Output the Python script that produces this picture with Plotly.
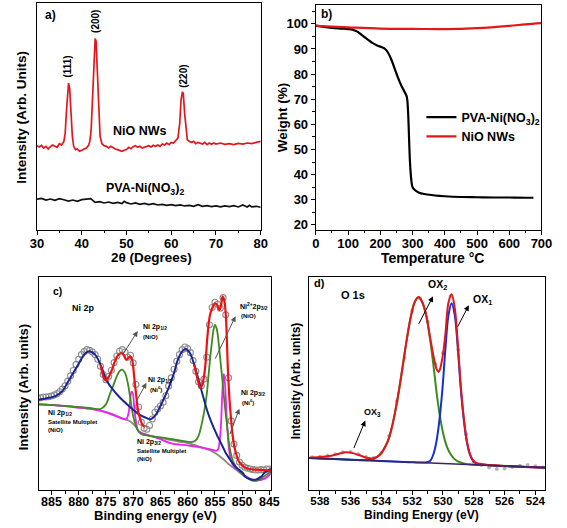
import plotly.graph_objects as go

# ---------------- Panel a: XRD ----------------
a_red_x = [30, 30.5, 31, 31.5, 32, 32.5, 33, 33.5, 34, 34.5, 35, 35.5, 36,
           36.3, 36.6, 36.9, 37.05, 37.3, 37.6, 37.9, 38.2, 38.6,
           39, 39.5, 40, 40.5, 41, 41.5,
           41.8, 42.1, 42.4, 42.7, 43.0, 43.2, 43.5, 43.8, 44.1, 44.5,
           45, 45.5, 46, 46.5, 47, 47.5, 48, 48.5, 49, 49.5, 50, 50.5, 51, 51.5, 52, 52.5,
           53, 53.5, 54, 54.5, 55, 55.5, 56, 56.5, 57, 57.5, 58, 58.5, 59, 59.5, 60, 60.5, 61,
           61.5, 61.9, 62.2, 62.5, 62.7, 63.0, 63.3, 63.6,
           64, 64.5, 65, 65.5, 66, 66.5, 67, 67.5, 68, 68.5, 69, 69.5, 70,
           71, 72, 73, 74, 75, 76, 77, 78, 79, 80]
a_red_I = [262, 258, 263, 255, 260, 252, 259, 264, 260, 257, 268, 264, 275,
           300, 370, 440, 452, 435, 360, 290, 260, 250,
           252, 245, 248, 252, 255, 262,
           275, 310, 400, 510, 587, 580, 480, 350, 290, 268,
           262, 260, 255, 260, 255, 252, 250, 247, 245, 248, 250, 257, 253, 259, 262, 257,
           260, 255, 258, 260, 262, 258, 263, 260, 264, 260, 267, 264, 270, 265, 272, 270, 277,
           285, 330, 400, 425, 420, 360, 305, 280,
           275, 272, 275, 268, 272, 270, 267, 272, 265, 270, 266, 270, 267,
           270, 266, 268, 265, 269, 267, 270, 268, 272, 275]
a_blk_x = [30, 31, 32, 33, 34, 35, 36, 37, 38, 39, 40, 41, 42, 43, 44, 45, 46, 47, 48, 49,
           49.5, 50, 51, 52, 53, 54, 55, 56, 57, 58, 59, 60, 61, 62, 63, 64, 65, 66, 67, 68,
           69, 70, 71, 72, 73, 74, 75, 76, 77, 77.5, 78, 79, 80]
a_blk_I = [100, 102, 97, 100, 96, 101, 98, 94, 97, 93, 98, 100, 101, 90, 92, 88, 91, 87, 90, 86,
           93, 89, 85, 88, 84, 87, 83, 86, 82, 84, 81, 83, 80, 82, 79, 81, 78, 83, 78, 80,
           77, 79, 76, 79, 77, 80, 76, 82, 76, 81, 76, 78, 75]
a_peaks = ["(111)", "(200)", "(220)"]

# ---------------- Panel b: TGA ----------------
b_T_black = [0, 20, 50, 80, 100, 115, 130, 145, 160, 175, 190, 205, 215, 225, 235, 245, 255,
             265, 275, 282, 286, 289, 292, 296, 300, 308, 320, 340, 370, 400, 450, 500, 550,
             600, 650, 675]
b_W_black = [99.3, 98.9, 98.4, 98.1, 97.9, 97.6, 96.8, 95.3, 93.8, 92.4, 91.4, 90.7, 90.0,
             88.3, 85.5, 82.0, 78.5, 75.5, 73.0, 71.0, 65.0, 55.0, 45.0, 38.0, 35.0, 33.8,
             32.8, 32.2, 31.7, 31.4, 31.1, 31.0, 30.9, 30.9, 30.8, 30.8]
b_T_red = [0, 100, 200, 300, 400, 500, 600, 650, 700]
b_W_red = [99.2, 98.6, 98.1, 98.0, 97.9, 98.3, 99.2, 99.8, 100.3]
b_names = ["PVA-Ni(NO<sub>3</sub>)<sub>2</sub>", "NiO NWs"]

# ---------------- Panel c: Ni 2p XPS ----------------
c_data_E = [887.5, 887, 886.5, 886, 885.5, 885, 884.5, 884, 883.5, 883, 882.5, 882, 881.5, 881,
            880.5, 880, 879.5, 879, 878.5, 878, 877.5, 877, 876.5, 876, 875.5, 875, 874.5, 874,
            873.5, 873, 872.5, 872, 871.5, 871, 870.5, 870, 869.5, 869, 868.5, 868, 867.5, 867,
            866.5, 866, 865.5, 865, 864.5, 864, 863.5, 863, 862.5, 862, 861.5, 861, 860.5, 860,
            859.5, 859, 858.5, 858, 857.5, 857, 856.5, 856, 855.5, 855, 854.5, 854, 853.5, 853,
            852.5, 852, 851.5, 851, 850.5, 850, 849.5, 849, 848.5, 848, 847.5, 847, 846.5, 846,
            845.5, 845, 844.5]
c_data_I = [308, 310, 312, 312, 313, 315, 318, 322, 328, 336, 346, 360, 376, 392,
            410, 426, 440, 449, 455, 453, 448, 440, 426, 405, 380, 364, 374, 393,
            416, 436, 450, 455, 448, 432, 438, 415, 350, 282, 236, 218, 215, 226,
            246, 266, 276, 285, 296, 316, 345, 370, 396, 420, 440, 455, 463, 458,
            446, 422, 390, 358, 346, 366, 432, 530, 582, 598, 592, 580, 612, 560,
            370, 240, 170, 136, 116, 106, 100, 97, 95, 93, 92, 92, 93, 92,
            95, 95, 93]
c_bg_E = [887.3, 884, 881, 878, 876, 874, 872, 870.5, 869.5, 868.9, 867.5, 865.3, 863, 860.6,
          858.8, 857, 855.5, 854.7, 853.5, 852.5, 851.7, 850.5, 849.3, 847.5, 846, 845.2, 844.6]
c_bg_I = [290, 287, 282, 277, 272, 262, 248, 238, 222, 208, 197, 190, 182, 175,
          168, 158, 148, 140, 125, 110, 100, 85, 70, 60, 65, 75, 85]
c_green_E = [887.3, 884, 881, 878, 876, 875, 874.3, 873.7, 873, 872.4, 872, 871.5, 871, 870.5,
             870, 869.5, 869, 868.5, 867, 864, 861, 859.4, 858.6, 858, 857.5, 857, 856.5, 856.1,
             855.6, 855.2, 855, 854.7, 854.4, 854.1, 853.6, 853.2, 852.7, 852.3, 851.7, 851.1,
             850, 849, 848.1, 847, 845.8, 844.6]
c_green_I = [290, 287, 283, 279, 276, 290, 320, 345, 375, 392, 395, 385, 355, 305,
             255, 225, 208, 200, 195, 188, 180, 176, 180, 195, 225, 265, 320, 390,
             470, 520, 530, 520, 490, 440, 360, 290, 215, 160, 120, 100,
             80, 68, 60, 62, 75, 90]
c_mag_E = [887.3, 884, 881, 878, 876, 874, 872.5, 871.3, 870.9, 870.6, 870.3, 870.1, 869.8,
           869.5, 869.2, 868.9, 867, 865, 863, 860, 858.2, 856, 854.7, 854.4, 854.0, 853.7,
           853.5, 853.35, 853.1, 852.8, 852.5, 852.2, 851.8, 851.1, 850, 849, 848, 846, 844.6]
c_mag_I = [290, 287, 282, 277, 270, 260, 250, 245, 260, 295, 328, 325, 280,
           240, 215, 207, 196, 185, 172, 166, 162, 155, 150, 155, 200, 300,
           365, 382, 340, 240, 170, 130, 110, 95, 80, 70, 62, 65, 85]
c_blue_E = [887.3, 886, 884.3, 883, 881.9, 881, 880.1, 879, 878.1, 877, 876, 874.8, 873.5,
            872.4, 871, 870.1, 868.8, 867.7, 866.8, 866, 865, 863.5, 862.5, 861.8, 861, 860.4,
            859.6, 858.8, 857.6, 856.4, 855.5, 854.7, 853.5, 852.9, 851.1, 850, 849.3, 848.3,
            847.5, 846.5, 845.8, 844.6]
c_blue_I = [305, 308, 315, 330, 360, 385, 410, 440, 450, 440, 410, 360, 330,
            310, 288, 275, 258, 250, 245, 255, 285, 340, 385, 425, 450, 457,
            445, 410, 340, 270, 230, 200, 160, 140, 100, 85, 70, 63,
            63, 72, 85, 95]
c_red1_E = [876, 875.5, 875.1, 874.6, 874, 873.4, 872.8, 872.2, 871.7, 871.3, 870.9, 870.5,
            870.2, 869.8, 869.4, 869.1, 868.7, 868.3, 867.9]
c_red1_I = [410, 375, 362, 370, 390, 418, 438, 445, 438, 425, 430, 435,
            425, 370, 310, 270, 245, 228, 222]
c_red2_E = [858.8, 858.4, 858, 857.7, 857.3, 856.8, 856.4, 855.9, 855.5, 855, 854.6, 854.2,
            853.9, 853.6, 853.3, 853, 852.6, 852.3, 852, 851.7, 851.4, 851, 850.5, 849.5,
            848.7, 847.5, 846, 844.6]
c_red2_I = [410, 380, 355, 340, 350, 400, 490, 560, 580, 595, 590, 575,
            585, 615, 605, 560, 390, 300, 240, 190, 160, 135, 115, 100,
            95, 93, 92, 90]

# ---------------- Panel d: O 1s XPS ----------------
d_data_E = [538.5, 538, 537.5, 537, 536.5, 536, 535.5, 535, 534.5, 534, 533.5, 533, 532.5, 532,
            531.5, 531, 530.5, 530, 529.5, 529, 528.5, 528, 527.5, 527, 526.5, 526, 525.5, 525,
            524.5, 524, 523.5]
d_data_I = [131, 133, 136, 140, 146, 147, 140, 132, 129, 145, 196, 300, 432, 572,
            610, 540, 412, 445, 617, 455, 200, 118, 108, 100, 96, 97, 102, 106,
            108, 104, 100]
d_base_E = [538.7, 523.35]
d_base_I = [129, 100]
d_green_E = [538.7, 537, 536, 535, 534.6, 534.1, 533.6, 533.35, 533.1, 532.85, 532.6, 532.35,
             532.1, 531.85, 531.6, 531.35, 531.1, 530.85, 530.6, 530.4, 530.2, 530.0, 529.8,
             529.6, 529.3, 529.0, 528.6, 528, 527, 525, 523.35]
d_green_I = [129, 126, 124, 122, 125, 139, 178, 216, 270, 336, 411, 487,
             552, 597, 613, 598, 560, 490, 400, 320, 255, 205, 170,
             148, 128, 118, 112, 109, 107, 103, 100]
d_blue_E = [538.7, 536, 534, 532, 531.04, 530.84, 530.64, 530.44, 530.24, 530.04, 529.84,
            529.64, 529.44, 529.24, 529.04, 528.84, 528.64, 528.44, 528.24, 528.04, 527.84,
            527, 525, 523.35]
d_blue_I = [129, 124, 120, 116, 116, 120, 138, 175, 240, 335, 460,
            560, 595, 560, 460, 335, 240, 175, 138, 120, 113,
            107, 103, 100]
d_red_E = [538.7, 538, 537.4, 536.9, 536.3, 535.8, 535.3, 534.9, 534.5, 534.1, 533.6, 533.35,
           533.1, 532.85, 532.6, 532.35, 532.1, 531.85, 531.6, 531.35, 531.1, 530.85, 530.6,
           530.4, 530.3, 530.2, 530.0, 529.84, 529.64, 529.44, 529.24, 529.04, 528.84, 528.64,
           528.44, 528.24, 528.04, 527.84, 527, 525, 523.35]
d_red_I = [130, 132, 135, 140, 146, 143, 135, 129, 128, 139, 178, 216,
           270, 336, 411, 487, 552, 597, 614, 599, 561, 495, 432,
           395, 388, 396, 442, 505, 598, 622, 582, 476, 345, 247,
           178, 140, 121, 114, 108, 103, 100]

# ---------------- figure ----------------
W, H = 567, 528
FONT = "Liberation Sans, Arial, sans-serif"


def fx(p):
    return p / W


def fy(p):
    return 1 - p / H


fig = go.Figure()


def line(x, y, color, width, xa, ya, shape="linear", name=None, legend=False):
    fig.add_trace(go.Scatter(x=x, y=y, mode="lines", line=dict(color=color, width=width, shape=shape),
                             xaxis=xa, yaxis=ya, name=name, showlegend=legend, hoverinfo="skip"))


# panel a
line(a_red_x, a_red_I, "#e3171b", 1.7, "x", "y")
line(a_blk_x, a_blk_I, "#111111", 1.7, "x", "y")

# panel b
line(b_T_black, b_W_black, "#000000", 2.2, "x2", "y2", shape="spline", name=b_names[0], legend=True)
line(b_T_red, b_W_red, "#e3171b", 2.2, "x2", "y2", shape="spline", name=b_names[1], legend=True)

# panel c
fig.add_trace(go.Scatter(x=c_data_E, y=c_data_I, mode="markers",
                         marker=dict(symbol="circle-open", size=6, color="#8c8c8c", line=dict(width=1.1)),
                         xaxis="x3", yaxis="y3", showlegend=False, hoverinfo="skip"))
line(c_bg_E, c_bg_I, "#8a8a80", 1.8, "x3", "y3", shape="spline")
line(c_mag_E, c_mag_I, "#f21ef2", 1.8, "x3", "y3", shape="spline")
line(c_green_E, c_green_I, "#3f8a1f", 1.8, "x3", "y3", shape="spline")
line(c_blue_E, c_blue_I, "#1b2494", 2.0, "x3", "y3", shape="spline")
line(c_red1_E, c_red1_I, "#ee1111", 2.2, "x3", "y3", shape="spline")
line(c_red2_E, c_red2_I, "#ee1111", 2.2, "x3", "y3", shape="spline")

# panel d
fig.add_trace(go.Scatter(x=d_data_E, y=d_data_I, mode="markers",
                         marker=dict(symbol="circle", size=4, color="#b5b5b5"),
                         xaxis="x4", yaxis="y4", showlegend=False, hoverinfo="skip"))
line(d_green_E, d_green_I, "#3f8a1f", 2.0, "x4", "y4", shape="spline")
line(d_blue_E, d_blue_I, "#1430d6", 2.0, "x4", "y4", shape="spline")
line(d_red_E, d_red_I, "#e3171b", 2.0, "x4", "y4", shape="spline")
line(d_base_E, d_base_I, "#3a2466", 1.6, "x4", "y4")


def xaxis(dom, rng, anchor, dtick, minor, size, standoff=0):
    return dict(domain=dom, range=rng, anchor=anchor, showline=True, linecolor="black", linewidth=1.3,
                mirror=True, showgrid=False, zeroline=False, ticks="outside", ticklen=4, tickwidth=1.2,
                tickcolor="black", dtick=dtick, tick0=0, ticklabelstandoff=standoff,
                minor=dict(dtick=minor, ticks="outside", ticklen=2.5, tickwidth=1, tickcolor="black"),
                tickfont=dict(family=FONT, size=size, color="black", weight="bold"))


def yaxis_blank(dom, rng, anchor):
    return dict(domain=dom, range=rng, anchor=anchor, showline=True, linecolor="black", linewidth=1.3,
                mirror=True, showgrid=False, zeroline=False, ticks="", showticklabels=False)


layout = dict(
    width=W, height=H, margin=dict(l=0, r=0, t=0, b=0),
    paper_bgcolor="white", plot_bgcolor="white",
    font=dict(family=FONT, color="black"),
    xaxis=xaxis([fx(31), fx(262)], [30, 80], "y", 10, 5, 13, -2),
    yaxis=yaxis_blank([fy(231), fy(3)], [7, 695], "x"),
    xaxis2=xaxis([fx(319), fx(552)], [0, 700], "y2", 100, 50, 13, -2),
    yaxis2=dict(domain=[fy(231), fy(5)], range=[18.1, 107.5], anchor="x2", showline=True,
                linecolor="black", linewidth=1.3, mirror=True, showgrid=False, zeroline=False,
                ticks="outside", ticklen=4, tickwidth=1.2, tickcolor="black", dtick=10, tick0=0,
                minor=dict(dtick=5, ticks="outside", ticklen=2.5, tickwidth=1, tickcolor="black"),
                tickfont=dict(family=FONT, size=13, color="black", weight="bold")),
    xaxis3=xaxis([fx(33), fx(273)], [887.3, 844.64], "y3", 5, 2.5, 12.5, -4),
    yaxis3=yaxis_blank([fy(493), fy(279)], [31, 673], "x3"),
    xaxis4=xaxis([fx(312), fx(556)], [538.7, 523.35], "y4", 2, 1, 11.5, -4),
    yaxis4=yaxis_blank([fy(493), fy(279)], [32, 673], "x4"),
    legend=dict(x=fx(428), y=fy(103), xanchor="left", yanchor="top", bgcolor="rgba(0,0,0,0)",
                font=dict(family=FONT, size=12.5, color="black", weight="bold"), itemwidth=30,
                tracegroupgap=0),
)
fig.update_layout(**layout)

anns = []


def text(t, x, y, size, xanchor="left", angle=0, color="black"):
    anns.append(dict(text=t, x=fx(x), y=fy(y), xref="paper", yref="paper", xanchor=xanchor,
                     yanchor="middle", showarrow=False, textangle=angle,
                     font=dict(family=FONT, size=size, color=color, weight="bold")))


def arrow(tail, tip, color):
    anns.append(dict(text="", x=fx(tip[0]), y=fy(tip[1]), xref="paper", yref="paper",
                     ax=tail[0] - tip[0], ay=tail[1] - tip[1], showarrow=True, arrowhead=2,
                     arrowsize=1.1, arrowwidth=1, arrowcolor=color))


# axis titles
text("Intensity (Arb. Units)", 15, 118, 13.5, "center", -90)
text("2θ (Degrees)", 149, 259, 13.5, "center")
text("Weight (%)", 284, 118, 13.5, "center", -90)
text("Temperature °C", 439, 259, 14, "center")
text("Intensity (Arb. units)", 17, 389, 13, "center", -90)
text("Binding energy (eV)", 153, 518, 13, "center")
text("Intensity (Arb. units)", 298, 383, 12, "center", -90)
text("Binding Energy (eV)", 428, 518, 12, "center")

# panel a labels
text("a)", 37, 15, 12)
text(a_peaks[0], 63, 67, 10, "center", -90)
text(a_peaks[1], 92, 22, 10, "center", -90)
text(a_peaks[2], 182, 77, 10, "center", -90)
text("NiO NWs", 137, 132, 12.5, "center")
text("PVA-Ni(NO<sub>3</sub>)<sub>2</sub>", 143, 190, 12.5, "center")

# panel b label
text("b)", 322, 14, 12)

# panel c labels
text("c)", 45, 293, 10.5)
text("Ni 2p", 65, 310, 9)
text("Ni 2p<sub>1/2</sub>", 138, 329, 7)
text("(NiO)", 138, 339, 6)
text("Ni 2p<sub>1/2</sub>", 144, 382, 7)
text("(Ni<sup>0</sup>)", 146, 391, 6)
text("Ni<sup>2+</sup>2p<sub>3/2</sub>", 239, 308, 7)
text("(NiO)", 240, 318, 6)
text("Ni 2p<sub>3/2</sub>", 240, 395, 7)
text("(Ni<sup>0</sup>)", 241, 404, 6)
text("Ni 2p<sub>1/2</sub>", 40, 415, 7)
text("Satellite Multiplet", 40, 424, 6)
text("(NiO)", 40, 432, 6)
text("Ni 2p<sub>3/2</sub>", 132, 445, 7)
text("Satellite Multiplet", 132, 454, 6)
text("(NiO)", 132, 462, 6)
arrow((119, 358), (135, 333), "#555555")
arrow((133, 405), (144, 385), "#555555")
arrow((215, 362), (236, 318), "#555555")
arrow((230, 438), (240, 411), "#555555")

# panel d labels
text("d)", 315, 285, 11)
text("O 1s", 343, 297, 11)
text("OX<sub>2</sub>", 433, 287, 10.5)
text("OX<sub>1</sub>", 479, 302, 10.5)
text("OX<sub>3</sub>", 367, 415, 9)
arrow((425, 327), (440, 298), "black")
arrow((465, 330), (477, 307), "black")
arrow((358, 452), (370, 423), "black")

fig.update_layout(annotations=anns)
fig.write_html("out.html", config={"displayModeBar": False},
               post_script="document.body.style.margin='0';document.body.style.padding='0';")
